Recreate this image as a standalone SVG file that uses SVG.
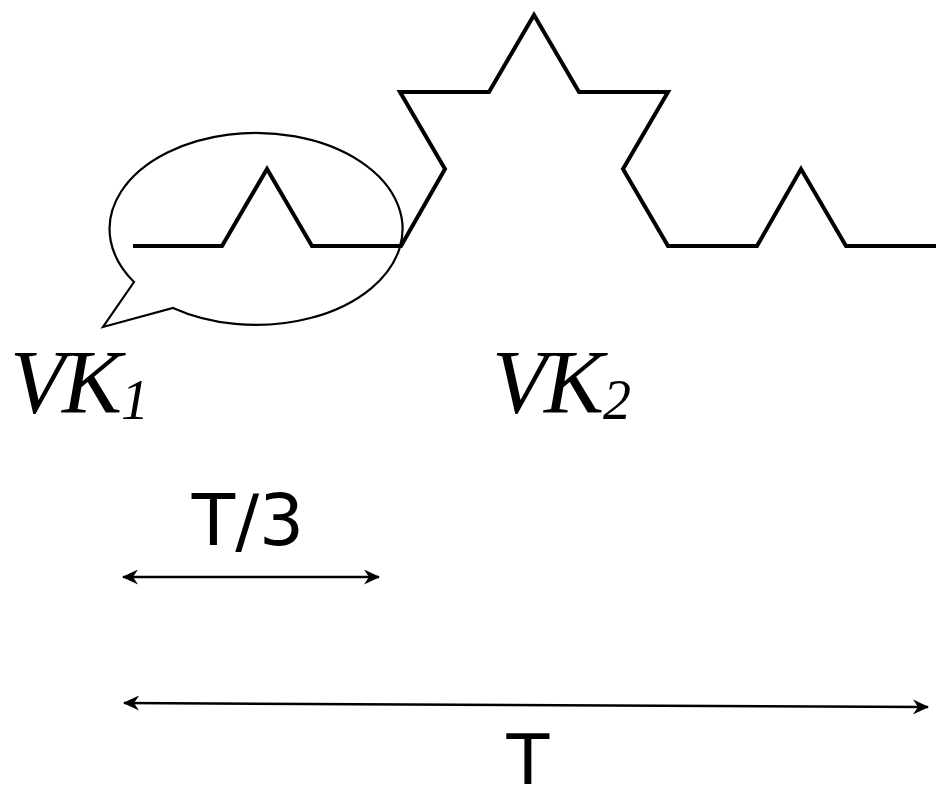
<svg xmlns="http://www.w3.org/2000/svg" width="942" height="799" viewBox="0 0 942 799">
<style>
.koch{fill:none;stroke:#000;stroke-width:4;stroke-linejoin:miter}
.bubble{fill:none;stroke:#000;stroke-width:2.2}
.lbl{font-family:"Liberation Serif","Times New Roman",serif;font-style:italic;fill:#000}
.dim{font-family:"DejaVu Sans",Verdana,sans-serif;fill:#000}
.arr{stroke:#000;stroke-width:2.5;fill:none}
</style>
<defs>
<marker id="ah" viewBox="0 0 16 15" refX="15" refY="7.5" markerWidth="16" markerHeight="15" markerUnits="userSpaceOnUse" orient="auto-start-reverse">
<path d="M0,0 L16,7.5 L0,15 L5,7.5 Z" fill="#000"/>
</marker>
</defs>
<g id="koch-curve">
<polyline class="koch" points="133,246 222,246 267,169 312,246 401,246 445,169 400,92 489,92 534,15 579,92 668,92 623,169 668,246 757,246 801,169 846,246 936,246"/>
</g>
<g id="callout">
<path class="bubble" d="M134,282 L103,327 L173,308 A146.5,96 0 1 0 134,282 Z"/>
</g>
<g id="label-vk1">
<text class="lbl" x="10" y="413" font-size="90" letter-spacing="-3">VK<tspan font-size="56" dy="6" dx="2">1</tspan></text>
</g>
<g id="label-vk2">
<text class="lbl" x="492" y="413" font-size="90" letter-spacing="-3">VK<tspan font-size="56" dy="6" dx="2">2</tspan></text>
</g>
<g id="connectors">
<line class="arr" x1="123" y1="577" x2="379" y2="577" marker-start="url(#ah)" marker-end="url(#ah)"/>
<line class="arr" x1="124" y1="703" x2="928" y2="707" marker-start="url(#ah)" marker-end="url(#ah)"/>
</g>
<g id="label-t3">
<text class="dim" x="248" y="545" font-size="71" text-anchor="middle">T/3</text>
</g>
<g id="label-t">
<text class="dim" x="528" y="784" font-size="70" text-anchor="middle">T</text>
</g>
</svg>
